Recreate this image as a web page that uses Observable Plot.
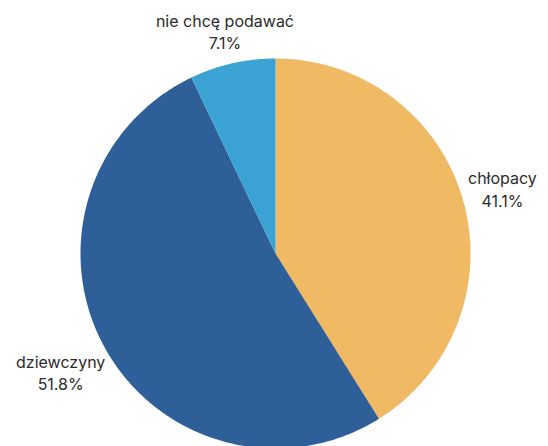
<!DOCTYPE html>
<html>
<head>
<meta charset="utf-8">
<script src="https://cdn.jsdelivr.net/npm/d3@7"></script>
<script src="https://cdn.jsdelivr.net/npm/@observablehq/plot@0.6"></script>
<style>
  html, body { margin: 0; padding: 0; background: #fff; }
  #chart { width: 548px; height: 446px; }
</style>
</head>
<body>
<div id="chart"></div>
<script>
// Data
const labels = ["chłopacy", "dziewczyny", "nie chcę podawać"];
const values = [41.1, 51.8, 7.1];
const colors = ["#F0BA64", "#2F5F98", "#3BA3D4"];

// Layout constants
const W = 548, H = 446;
const cx = 275, cy = 253, r = 195;
const FONT = "Inter, 'Open Sans', sans-serif";
const FS = 16, LH = 1.4;

const arcs = d3.pie().sort(null).value(d => d)(values);

// Slice outlines derived from the pie angles
const pts = [];
arcs.forEach((a, i) => {
  const n = Math.max(4, Math.ceil((a.endAngle - a.startAngle) / (Math.PI / 240)));
  pts.push({label: labels[i], x: cx, y: cy});
  for (let k = 0; k <= n; k++) {
    const t = a.startAngle + (a.endAngle - a.startAngle) * k / n;
    pts.push({label: labels[i], x: cx + r * Math.sin(t), y: cy - r * Math.cos(t)});
  }
});

// Label positions
const ctx = document.createElement("canvas").getContext("2d");
ctx.font = `${FS}px ${FONT}`;
const labelData = arcs.map((a, i) => {
  const m = (a.startAngle + a.endAngle) / 2;
  const ux = Math.sin(m), uy = -Math.cos(m);
  const text = `${labels[i]}\n${values[i].toFixed(1)}%`;
  const hw = Math.max(ctx.measureText(labels[i]).width, ctx.measureText(values[i].toFixed(1) + "%").width) / 2;
  const hh = FS * LH;
  const R = r + 4 + hw * Math.abs(ux) + hh * Math.abs(uy) * 0.65;
  return {label: labels[i], text, x: cx + R * ux, y: cy + R * uy};
});

const chart = Plot.plot({
  width: W,
  height: H,
  margin: 0,
  style: {fontFamily: FONT, background: "#fff"},
  x: {domain: [0, W], range: [0, W], axis: null},
  y: {domain: [0, H], range: [0, H], axis: null},
  color: {domain: labels, range: colors},
  marks: [
    Plot.line(pts, {x: "x", y: "y", z: "label", fill: "label", stroke: "none", curve: "linear-closed"}),
    Plot.text(labelData, {x: "x", y: "y", text: "text", fontSize: FS, lineHeight: LH, lineAnchor: "middle", textAnchor: "middle", fill: "#2b2b2b"})
  ]
});
document.getElementById("chart").appendChild(chart);
</script>
</body>
</html>
